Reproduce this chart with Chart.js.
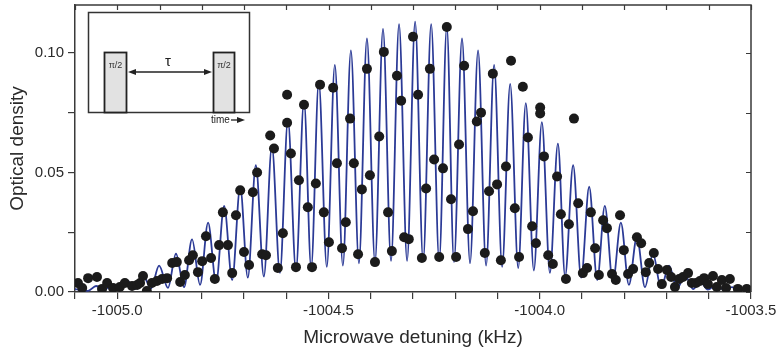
<!DOCTYPE html>
<html>
<head>
<meta charset="utf-8">
<script src="https://cdn.jsdelivr.net/npm/chart.js@4"></script>
<style>
  html, body { margin: 0; padding: 0; background: #fff; }
</style>
</head>
<body>
<canvas id="chart" width="779" height="351"></canvas>
<script>
// --- Données ---
// Points de mesure (détuning en kHz, densité optique)
const dotX = [-1005.093, -1005.083, -1005.069, -1005.048, -1005.036, -1005.024, -1005.010, -1004.994, -1004.982, -1004.965,
  -1004.953, -1004.946, -1004.939, -1004.930, -1004.918, -1004.906, -1004.894, -1004.882, -1004.870, -1004.859,
  -1004.851, -1004.840, -1004.830, -1004.821, -1004.809, -1004.799, -1004.790, -1004.778, -1004.769, -1004.759,
  -1004.750, -1004.738, -1004.728, -1004.719, -1004.709, -1004.700, -1004.688, -1004.679, -1004.669, -1004.657,
  -1004.648, -1004.638, -1004.629, -1004.620, -1004.608, -1004.598, -1004.598, -1004.589, -1004.577, -1004.570,
  -1004.558, -1004.549, -1004.539, -1004.530, -1004.520, -1004.511, -1004.499, -1004.489, -1004.480, -1004.468,
  -1004.459, -1004.449, -1004.440, -1004.430, -1004.421, -1004.409, -1004.402, -1004.390, -1004.380, -1004.369,
  -1004.359, -1004.350, -1004.338, -1004.328, -1004.321, -1004.310, -1004.300, -1004.288, -1004.279, -1004.269,
  -1004.260, -1004.250, -1004.238, -1004.229, -1004.220, -1004.210, -1004.198, -1004.191, -1004.179, -1004.170,
  -1004.158, -1004.149, -1004.139, -1004.130, -1004.120, -1004.111, -1004.101, -1004.092, -1004.080, -1004.068,
  -1004.059, -1004.049, -1004.040, -1004.028, -1004.018, -1004.009, -1003.999, -1003.999, -1003.990, -1003.980,
  -1003.969, -1003.959, -1003.950, -1003.938, -1003.931, -1003.919, -1003.909, -1003.898, -1003.888, -1003.879,
  -1003.869, -1003.860, -1003.850, -1003.841, -1003.829, -1003.820, -1003.810, -1003.801, -1003.791, -1003.779,
  -1003.770, -1003.760, -1003.749, -1003.741, -1003.730, -1003.720, -1003.711, -1003.699, -1003.689, -1003.680,
  -1003.670, -1003.661, -1003.649, -1003.640, -1003.630, -1003.621, -1003.611, -1003.602, -1003.590, -1003.581,
  -1003.569, -1003.559, -1003.550, -1003.531, -1003.510];
const dotY = [0.0038, 0.0017, 0.0058, 0.0063, 0.0013, 0.0038, 0.0017, 0.0021, 0.0038, 0.0025,
  0.0029, 0.0038, 0.0067, 0.0004, 0.0038, 0.0046, 0.0054, 0.0058, 0.0121, 0.0125,
  0.0042, 0.0071, 0.0133, 0.0154, 0.0083, 0.0129, 0.0233, 0.0142, 0.0054, 0.0196,
  0.0333, 0.0196, 0.0079, 0.0321, 0.0425, 0.0167, 0.0113, 0.0417, 0.0500, 0.0158,
  0.0154, 0.0654, 0.0600, 0.0100, 0.0246, 0.0825, 0.0708, 0.0579, 0.0104, 0.0467,
  0.0783, 0.0354, 0.0104, 0.0454, 0.0867, 0.0333, 0.0208, 0.0854, 0.0538, 0.0183,
  0.0292, 0.0725, 0.0538, 0.0158, 0.0429, 0.0933, 0.0488, 0.0125, 0.0650, 0.1004,
  0.0333, 0.0171, 0.0904, 0.0800, 0.0229, 0.0221, 0.1067, 0.0825, 0.0142, 0.0433,
  0.0933, 0.0554, 0.0146, 0.0517, 0.1108, 0.0388, 0.0146, 0.0617, 0.0946, 0.0263,
  0.0338, 0.0713, 0.0750, 0.0163, 0.0421, 0.0913, 0.0450, 0.0133, 0.0525, 0.0967,
  0.0350, 0.0146, 0.0858, 0.0646, 0.0275, 0.0204, 0.0771, 0.0746, 0.0567, 0.0154,
  0.0117, 0.0483, 0.0325, 0.0054, 0.0283, 0.0725, 0.0371, 0.0079, 0.0100, 0.0333,
  0.0183, 0.0071, 0.0300, 0.0267, 0.0075, 0.0050, 0.0321, 0.0175, 0.0075, 0.0096,
  0.0229, 0.0204, 0.0083, 0.0121, 0.0163, 0.0096, 0.0033, 0.0092, 0.0063, 0.0021,
  0.0054, 0.0063, 0.0079, 0.0038, 0.0038, 0.0046, 0.0058, 0.0033, 0.0067, 0.0021,
  0.0050, 0.0017, 0.0054, 0.0013, 0.0013];

// Courbe ajustée : maxima et minima successifs des franges
const curveX = [-1005.100, -1005.069, -1005.050, -1005.031, -1005.012, -1004.994, -1004.975, -1004.958, -1004.939, -1004.920,
  -1004.901, -1004.880, -1004.861, -1004.842, -1004.823, -1004.804, -1004.785, -1004.766, -1004.747, -1004.728,
  -1004.709, -1004.691, -1004.672, -1004.653, -1004.634, -1004.615, -1004.596, -1004.577, -1004.558, -1004.541,
  -1004.523, -1004.504, -1004.485, -1004.466, -1004.447, -1004.428, -1004.409, -1004.390, -1004.371, -1004.352,
  -1004.333, -1004.314, -1004.295, -1004.276, -1004.257, -1004.238, -1004.220, -1004.203, -1004.184, -1004.165,
  -1004.146, -1004.127, -1004.108, -1004.089, -1004.070, -1004.051, -1004.033, -1004.014, -1003.995, -1003.976,
  -1003.957, -1003.940, -1003.921, -1003.902, -1003.883, -1003.864, -1003.846, -1003.827, -1003.808, -1003.789,
  -1003.770, -1003.751, -1003.732, -1003.713, -1003.694, -1003.675, -1003.656, -1003.637, -1003.621, -1003.602,
  -1003.583, -1003.564, -1003.545, -1003.526, -1003.507, -1003.500];
const curveY = [0.0012, 0.0005, 0.0025, 0.0008, 0.003, 0.001, 0.0045, 0.0012, 0.007, 0.0015,
  0.011, 0.0017, 0.016, 0.002, 0.022, 0.003, 0.029, 0.004, 0.036, 0.005,
  0.044, 0.006, 0.053, 0.0065, 0.061, 0.008, 0.072, 0.009, 0.080, 0.010,
  0.088, 0.0105, 0.095, 0.011, 0.101, 0.012, 0.106, 0.0125, 0.110, 0.013,
  0.112, 0.013, 0.113, 0.013, 0.112, 0.013, 0.111, 0.0125, 0.106, 0.012,
  0.101, 0.011, 0.095, 0.0105, 0.087, 0.010, 0.079, 0.009, 0.071, 0.008,
  0.062, 0.0065, 0.053, 0.006, 0.044, 0.005, 0.036, 0.004, 0.029, 0.003,
  0.023, 0.002, 0.016, 0.0017, 0.011, 0.0015, 0.007, 0.0012, 0.0045, 0.001,
  0.003, 0.0008, 0.002, 0.0006, 0.0015, 0.0014];

// Graduations
const xTicks = [-1005.1, -1005.0, -1004.9, -1004.8, -1004.7, -1004.6, -1004.5, -1004.4, -1004.3, -1004.2,
  -1004.1, -1004.0, -1003.9, -1003.8, -1003.7, -1003.6, -1003.5];
const xLabelValues = [-1005.0, -1004.5, -1004.0, -1003.5];
const xLabels = ['-1005.0', '-1004.5', '-1004.0', '-1003.5'];
const yTicks = [0, 0.025, 0.05, 0.075, 0.1];
const yLabelValues = [0, 0.05, 0.1];
const yLabels = ['0.00', '0.05', '0.10'];

// --- Styles ---
const AXIS = '#3a3a3a';
const TEXT = '#2a2a2a';
const FONT = "'Liberation Sans', Arial, Helvetica, sans-serif";

function findLabel(values, labels, v) {
  const i = values.findIndex(t => Math.abs(t - v) < 1e-6);
  return i >= 0 ? labels[i] : '';
}

// Cadre haut/droite, graduations intérieures et encart (schéma Ramsey)
const framePlugin = {
  id: 'frame',
  afterDraw(chart) {
    const { ctx, chartArea: a, scales } = chart;
    ctx.save();
    ctx.strokeStyle = AXIS;
    ctx.lineWidth = 1.5;
    ctx.beginPath();
    ctx.moveTo(a.left, a.top);
    ctx.lineTo(a.right, a.top);
    ctx.lineTo(a.right, a.bottom);
    ctx.stroke();
    ctx.lineWidth = 1.2;
    ctx.beginPath();
    xTicks.forEach(v => {
      const px = Math.round(scales.x.getPixelForValue(v)) + 0.5;
      ctx.moveTo(px, a.top);
      ctx.lineTo(px, a.top + 5);
    });
    yTicks.forEach(v => {
      const py = Math.round(scales.y.getPixelForValue(v)) + 0.5;
      ctx.moveTo(a.right, py);
      ctx.lineTo(a.right - 5, py);
    });
    ctx.stroke();

    // Encart
    ctx.fillStyle = '#fff';
    ctx.fillRect(88, 12, 162, 100);
    ctx.strokeStyle = '#333';
    ctx.lineWidth = 1.5;
    ctx.strokeRect(88.5, 12.5, 161, 100);
    ctx.fillStyle = '#e2e2e2';
    ctx.fillRect(104, 52, 23, 60);
    ctx.fillRect(213, 52, 22, 60);
    ctx.strokeStyle = '#222';
    ctx.lineWidth = 1.8;
    ctx.strokeRect(104.5, 52.5, 22, 60);
    ctx.strokeRect(213.5, 52.5, 21, 60);

    ctx.fillStyle = '#333';
    ctx.font = '9px ' + FONT;
    ctx.textAlign = 'center';
    ctx.textBaseline = 'middle';
    ctx.fillText('π/2', 115.5, 66);
    ctx.fillText('π/2', 224, 66);

    // Flèche double
    ctx.strokeStyle = '#222';
    ctx.lineWidth = 1.3;
    ctx.beginPath();
    ctx.moveTo(131, 72);
    ctx.lineTo(209, 72);
    ctx.stroke();
    ctx.fillStyle = '#222';
    ctx.beginPath();
    ctx.moveTo(128, 72); ctx.lineTo(136, 69); ctx.lineTo(136, 75); ctx.closePath();
    ctx.moveTo(212, 72); ctx.lineTo(204, 69); ctx.lineTo(204, 75); ctx.closePath();
    ctx.fill();
    ctx.font = '15px ' + FONT;
    ctx.fillText('τ', 168, 62);

    // "time →"
    ctx.font = '10px ' + FONT;
    ctx.textAlign = 'left';
    ctx.fillText('time', 211, 120);
    ctx.beginPath();
    ctx.moveTo(231, 120); ctx.lineTo(239, 120);
    ctx.stroke();
    ctx.beginPath();
    ctx.moveTo(245, 120); ctx.lineTo(237, 117); ctx.lineTo(237, 123); ctx.closePath();
    ctx.fill();
    ctx.restore();
  }
};

const ctx = document.getElementById('chart').getContext('2d');
new Chart(ctx, {
  type: 'scatter',
  data: {
    datasets: [
      {
        label: 'Mesures',
        data: dotX.map((x, i) => ({ x: x, y: dotY[i] })),
        backgroundColor: '#1b1b1b',
        borderColor: '#1b1b1b',
        pointRadius: 5,
        borderWidth: 0,
        order: 0
      },
      {
        type: 'line',
        label: 'Ajustement',
        data: curveX.map((x, i) => ({ x: x, y: curveY[i] })),
        borderColor: '#2b3a96',
        borderWidth: 1.8,
        pointRadius: 0,
        fill: false,
        cubicInterpolationMode: 'monotone',
        order: 1
      }
    ]
  },
  options: {
    responsive: false,
    animation: false,
    layout: { padding: { top: 4, right: 28, left: 0, bottom: 0 } },
    plugins: { legend: { display: false }, tooltip: { enabled: false } },
    scales: {
      x: {
        type: 'linear',
        min: -1005.1,
        max: -1003.5,
        afterBuildTicks: s => { s.ticks = xTicks.map(v => ({ value: v })); },
        afterFit: s => { s.height = 59; s.paddingLeft = 0; s.paddingRight = 0; },
        grid: { drawOnChartArea: false, drawTicks: true, tickLength: 7, color: AXIS, lineWidth: 1.2 },
        border: { display: true, color: AXIS, width: 1.5 },
        ticks: {
          autoSkip: false,
          maxRotation: 0,
          padding: 3,
          color: TEXT,
          font: { family: FONT, size: 15 },
          callback: v => findLabel(xLabelValues, xLabels, v)
        },
        title: {
          display: true,
          text: 'Microwave detuning (kHz)',
          color: TEXT,
          font: { family: FONT, size: 19 },
          padding: { top: 0, bottom: 2 }
        }
      },
      y: {
        type: 'linear',
        min: 0,
        max: 0.12,
        afterBuildTicks: s => { s.ticks = yTicks.map(v => ({ value: v })); },
        afterFit: s => { s.width = 75; s.paddingTop = 0; s.paddingBottom = 0; },
        grid: { drawOnChartArea: false, drawTicks: true, tickLength: 7, color: AXIS, lineWidth: 1.2 },
        border: { display: true, color: AXIS, width: 1.5 },
        ticks: {
          padding: 4,
          color: TEXT,
          font: { family: FONT, size: 15 },
          callback: v => findLabel(yLabelValues, yLabels, v)
        },
        title: {
          display: true,
          text: 'Optical density',
          color: TEXT,
          font: { family: FONT, size: 19 },
          padding: { top: 6, bottom: 0 }
        }
      }
    }
  },
  plugins: [framePlugin]
});
</script>
</body>
</html>
